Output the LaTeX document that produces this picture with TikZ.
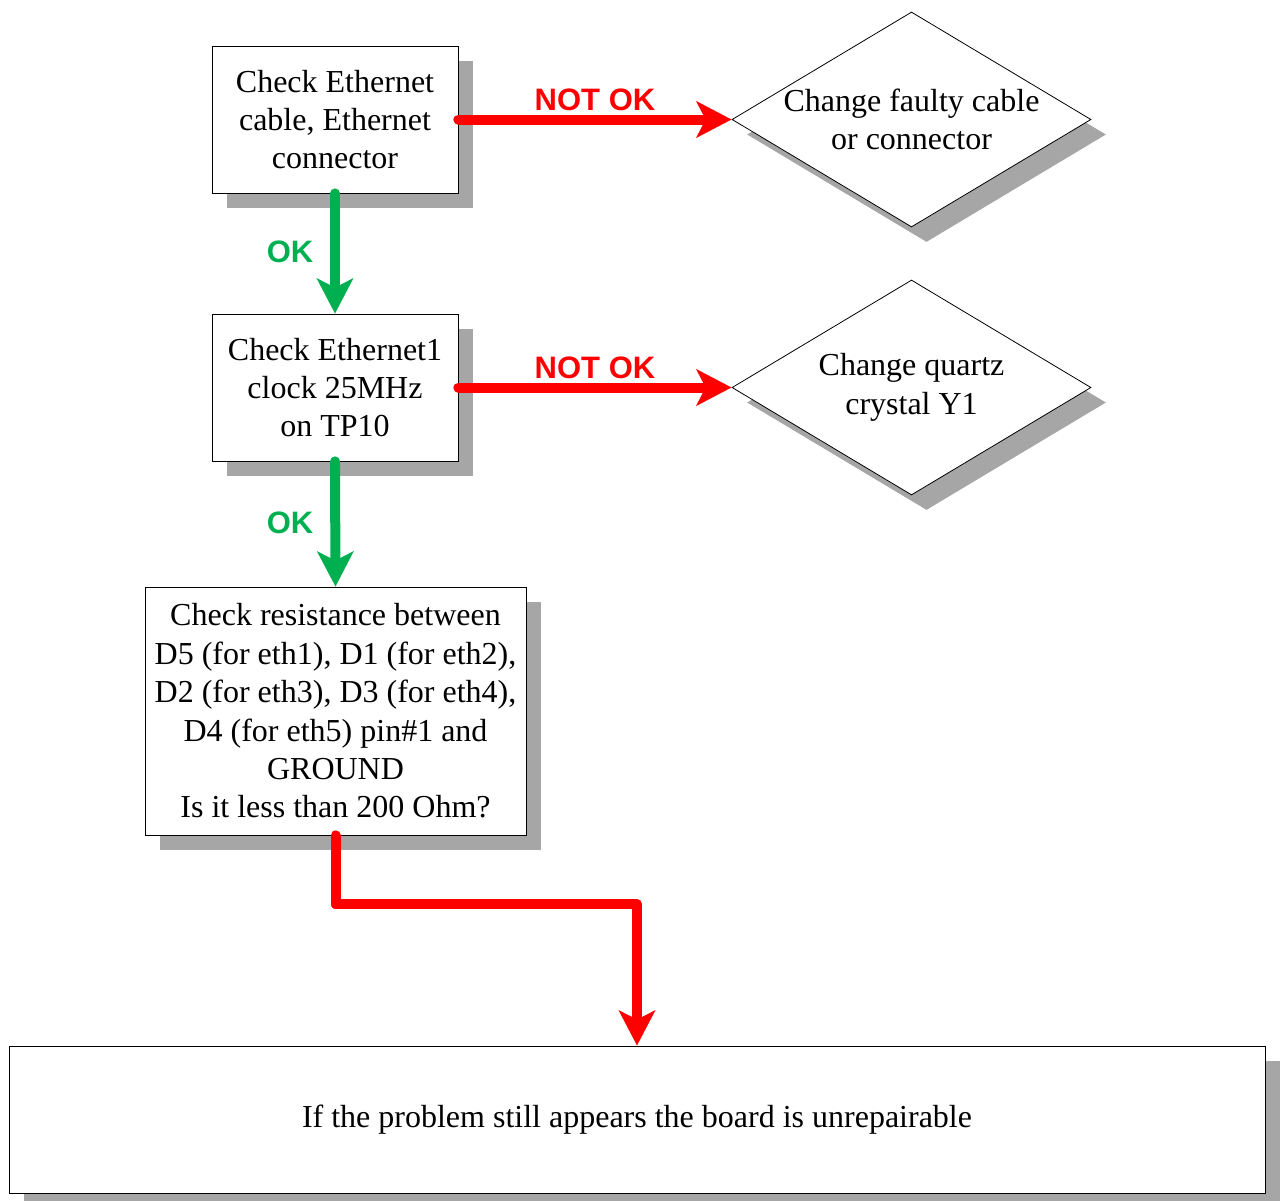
\documentclass[tikz,border=0pt]{standalone}
\usepackage{fontspec}
\setmainfont{Liberation Serif}
\newfontfamily\lblfont{Liberation Sans}
\usetikzlibrary{shapes.geometric,shadows,arrows.meta}
\definecolor{shgray}{HTML}{A6A6A6}
\definecolor{okgreen}{HTML}{00B050}
\definecolor{nokred}{HTML}{FF0000}
\tikzset{
  shd/.style={drop shadow={shadow xshift=15pt,shadow yshift=-15pt,fill=shgray,opacity=1}},
  stepbox/.style={draw=black,line width=0.8pt,fill=white,shd,inner sep=0pt,align=center,
    font=\fontsize{32}{38.4}\selectfont},
  dia/.style={draw=black,line width=0.8pt,fill=white,shd,diamond,inner sep=0pt},
  diatext/.style={align=center,font=\fontsize{32}{38.4}\selectfont},
  conn/.style={line width=10pt,line cap=round,line join=round,
    -{Stealth[length=35pt,width=36pt,inset=9pt]}},
  redc/.style={conn,draw=nokred,color=nokred},
  greenc/.style={conn,draw=okgreen,color=okgreen},
  redlbl/.style={text=nokred,font=\lblfont\fontsize{31}{37}\selectfont\bfseries},
  greenlbl/.style={text=okgreen,font=\lblfont\fontsize{31}{37}\selectfont\bfseries},
}
\begin{document}
\begin{tikzpicture}[x=1pt,y=-1pt]
\useasboundingbox (0,0) rectangle (1281,1200);
\fill[white] (0,0) rectangle (1281,1200);
% boxes
\node[stepbox,minimum width=246pt,minimum height=147pt] (b1) at (335,119.5)
  {Check Ethernet\\cable, Ethernet\\connector};
\node[stepbox,minimum width=246pt,minimum height=147pt] (b2) at (335,387.5)
  {Check Ethernet1\\clock 25MHz\\on TP10};
\node[stepbox,minimum width=381pt,minimum height=248pt] (b3) at (335.5,711)
  {Check resistance between\\D5 (for eth1), D1 (for eth2),\\D2 (for eth3), D3 (for eth4),\\D4 (for eth5) pin\#1 and\\GROUND\\Is it less than 200 Ohm?};
\node[stepbox,minimum width=1256pt,minimum height=147pt] (b4) at (637,1119.5)
  {If the problem still appears the board is unrepairable};
% diamonds
\node[dia,minimum width=359pt,minimum height=215pt] (d1) at (911.5,119.5) {};
\node[diatext] (t1) at (d1.center) {Change faulty cable\\or connector};
\node[dia,minimum width=359pt,minimum height=215pt] (d2) at (911.5,387.5) {};
\node[diatext] (t2) at (d2.center) {Change quartz\\crystal Y1};
% connectors
\draw[redc] (b1.east) -- (d1.west);
\draw[redc] (b2.east) -- (d2.west);
\draw[greenc] (b1.south) -- (b2.north);
\draw[greenc] (b2.south) -- (b3.north);
\draw[redc] (b3.south) -- ++(0,69) -| (b4.north);
% labels
\node[redlbl] (l1) at (595,100) {NOT OK};
\node[redlbl] (l2) at (595,368) {NOT OK};
\node[greenlbl] (l3) at (290,252) {OK};
\node[greenlbl] (l4) at (290,523) {OK};
\end{tikzpicture}
\end{document}
